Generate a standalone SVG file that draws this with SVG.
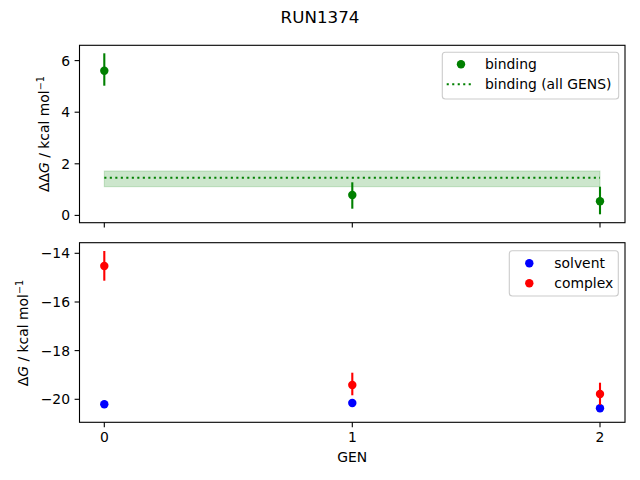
<svg xmlns="http://www.w3.org/2000/svg" width="640" height="480" viewBox="0 0 640 480">
<style>
text{font-family:"DejaVu Sans","Liberation Sans",sans-serif;fill:#000}
.tick{font-size:13.9px}
.lab{font-size:13.9px}
.spine{fill:none;stroke:#000;stroke-width:1.1}
.tk{stroke:#000;stroke-width:1.1}
.eg{stroke:#008000;stroke-width:2.1}
.er{stroke:#ff0000;stroke-width:2.1}
.leg{fill:#fff;fill-opacity:0.8;stroke:#cccccc;stroke-width:1.1}
</style>
<rect width="640" height="480" fill="#fff"/>
<text x="320" y="22.5" text-anchor="middle" style="font-size:16.7px">RUN1374</text>

<g id="top-axes">
<rect x="104.3" y="171" width="495.7" height="15.7" fill="#008000" fill-opacity="0.2" stroke="#008000" stroke-opacity="0.2" stroke-width="1"/>
<line x1="104.3" y1="177.8" x2="600" y2="177.8" stroke="#008000" stroke-width="2.1" stroke-dasharray="2.1 3.4"/>
<g id="binding-points">
<line class="eg" x1="104.3" y1="53.3" x2="104.3" y2="85.7"/>
<circle cx="104.3" cy="70.7" r="4.2" fill="#008000"/>
<line class="eg" x1="352.3" y1="182.3" x2="352.3" y2="208.7"/>
<circle cx="352.3" cy="195" r="4.2" fill="#008000"/>
<line class="eg" x1="600" y1="186.7" x2="600" y2="214.3"/>
<circle cx="600" cy="201.3" r="4.2" fill="#008000"/>
</g>
<rect class="spine" x="79.5" y="45.3" width="545.5" height="177.4"/>
<g class="tk">
<line x1="79.5" y1="215.4" x2="74.6" y2="215.4"/>
<line x1="79.5" y1="163.8" x2="74.6" y2="163.8"/>
<line x1="79.5" y1="112.2" x2="74.6" y2="112.2"/>
<line x1="79.5" y1="60.6" x2="74.6" y2="60.6"/>
<line x1="104.3" y1="222.7" x2="104.3" y2="227.6"/>
<line x1="352.3" y1="222.7" x2="352.3" y2="227.6"/>
<line x1="600" y1="222.7" x2="600" y2="227.6"/>
</g>
<g class="tick" text-anchor="end">
<text x="70" y="220.4">0</text>
<text x="70" y="168.8">2</text>
<text x="70" y="117.2">4</text>
<text x="70" y="65.6">6</text>
</g>
<text class="lab" transform="translate(49,134) rotate(-90)" text-anchor="middle">ΔΔ<tspan font-style="italic">G</tspan> / kcal mol<tspan font-size="9.7px" dy="-5">−1</tspan></text>
<g id="legend-top">
<rect class="leg" x="442.3" y="52.3" width="176.4" height="46.7" rx="3"/>
<circle cx="461" cy="64.3" r="4.2" fill="#008000"/>
<text class="tick" x="485" y="69.3">binding</text>
<line x1="446.7" y1="84.3" x2="474" y2="84.3" stroke="#008000" stroke-width="2.1" stroke-dasharray="2.1 3.4"/>
<text class="tick" x="485" y="89.3">binding (all GENS)</text>
</g>
</g>

<g id="bottom-axes">
<g id="solvent-points" fill="#0000ff">
<circle cx="104.3" cy="404.3" r="4.2"/>
<circle cx="352.3" cy="403" r="4.2"/>
<circle cx="600" cy="408.3" r="4.2"/>
</g>
<g id="complex-points" fill="#ff0000">
<line class="er" x1="104.3" y1="251" x2="104.3" y2="280.7"/>
<circle cx="104.3" cy="266" r="4.2"/>
<line class="er" x1="352.3" y1="372.7" x2="352.3" y2="395.3"/>
<circle cx="352.3" cy="385" r="4.2"/>
<line class="er" x1="600" y1="382.7" x2="600" y2="405"/>
<circle cx="600" cy="394" r="4.2"/>
</g>
<rect class="spine" x="79.5" y="242.7" width="545.5" height="179.6"/>
<g class="tk">
<line x1="79.5" y1="399.3" x2="74.6" y2="399.3"/>
<line x1="79.5" y1="350.6" x2="74.6" y2="350.6"/>
<line x1="79.5" y1="302" x2="74.6" y2="302"/>
<line x1="79.5" y1="253.3" x2="74.6" y2="253.3"/>
<line x1="104.3" y1="422.3" x2="104.3" y2="427.2"/>
<line x1="352.3" y1="422.3" x2="352.3" y2="427.2"/>
<line x1="600" y1="422.3" x2="600" y2="427.2"/>
</g>
<g class="tick" text-anchor="end">
<text x="70" y="404.3">−20</text>
<text x="70" y="355.6">−18</text>
<text x="70" y="307">−16</text>
<text x="70" y="258.3">−14</text>
</g>
<g class="tick" text-anchor="middle">
<text x="104.3" y="442">0</text>
<text x="352.3" y="442">1</text>
<text x="600" y="442">2</text>
</g>
<text class="lab" x="352.3" y="462" text-anchor="middle">GEN</text>
<text class="lab" transform="translate(28,333) rotate(-90)" text-anchor="middle">Δ<tspan font-style="italic">G</tspan> / kcal mol<tspan font-size="9.7px" dy="-5">−1</tspan></text>
<g id="legend-bottom">
<rect class="leg" x="509.3" y="250.7" width="109" height="45.3" rx="3"/>
<circle cx="529.3" cy="263.3" r="4.2" fill="#0000ff"/>
<text class="tick" x="554.3" y="268.3">solvent</text>
<circle cx="529.3" cy="283.3" r="4.2" fill="#ff0000"/>
<text class="tick" x="554.3" y="288.3">complex</text>
</g>
</g>
</svg>
